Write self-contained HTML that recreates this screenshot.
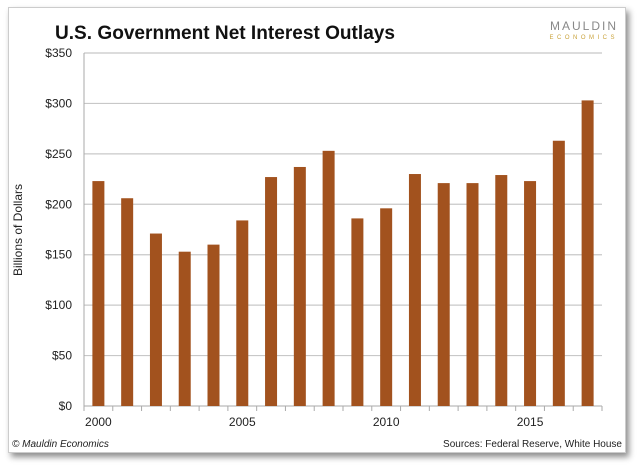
<!DOCTYPE html>
<html><head><meta charset="utf-8"><style>
body{margin:0;background:#fff;width:640px;height:467px;overflow:hidden;font-family:"Liberation Sans",sans-serif}
#card{position:absolute;left:8px;top:7px;width:616px;height:444px;background:#fff;border:1px solid #ccc;box-shadow:3px 4px 6px rgba(0,0,0,0.45)}
</style></head><body>
<div id="card"></div>
<svg id="chart" width="640" height="467" style="position:absolute;left:0;top:0">
<text x="55" y="39" font-size="19" font-weight="bold" fill="#111" textLength="340" lengthAdjust="spacingAndGlyphs">U.S. Government Net Interest Outlays</text>
<text x="618" y="30" text-anchor="end" font-size="12" fill="#888" letter-spacing="2">MAULDIN</text>
<text x="618" y="39" text-anchor="end" font-size="6" fill="#c9a23a" letter-spacing="3.5">ECONOMICS</text>
<text x="12" y="447" font-size="10" font-style="italic" fill="#222">© Mauldin Economics</text>
<text x="622" y="447" text-anchor="end" font-size="10" fill="#222">Sources: Federal Reserve, White House</text>
<text transform="translate(22,230) rotate(-90)" text-anchor="middle" font-size="12" fill="#222">Billions of Dollars</text>
<g id="g"></g>
</svg>
<script>
const years=[2000,2001,2002,2003,2004,2005,2006,2007,2008,2009,2010,2011,2012,2013,2014,2015,2016,2017];
const values=[223,206,171,153,160,184,227,237,253,186,196,230,221,221,229,223,263,303];
const yTicks=[0,50,100,150,200,250,300,350];
const xLabels=[2000,2005,2010,2015];
const L=84,R=602,B=406,T=53,ymax=350;
const ns="http://www.w3.org/2000/svg";
const g=document.getElementById('g');
const bw=(R-L)/years.length;
function y(v){return B-(v/ymax)*(B-T);}
function xc(i){return L+bw*(i+0.5);}
function el(t,a){const e=document.createElementNS(ns,t);for(const k in a)e.setAttribute(k,a[k]);g.appendChild(e);return e;}
yTicks.forEach(v=>{
 if(v>0){const l=el('line',{x1:L,x2:R,y1:y(v),y2:y(v),stroke:'#c8c8c8','stroke-width':1.2});
 
 }
 const t=el('text',{x:L-12,y:y(v)+4,'text-anchor':'end','font-size':12,fill:'#222'});t.textContent='$'+v;
 
 
});
const ax=el('line',{x1:L,x2:L,y1:T,y2:B,stroke:'#aaa'});


const bx=el('line',{x1:L,x2:R,y1:B,y2:B,stroke:'#aaa'});


for(let i=0;i<=years.length;i++){const tk=el('line',{x1:L+bw*i,x2:L+bw*i,y1:B,y2:B+5,stroke:'#aaa'});
 
 }
years.forEach((yr,i)=>{
 const r=el('rect',{x:xc(i)-6,y:y(values[i]),width:12,height:B-y(values[i]),fill:'#a2521e'});
 
 
 if(xLabels.includes(yr)){const t=el('text',{x:xc(i),y:B+20,'text-anchor':'middle','font-size':12,fill:'#222'});t.textContent=yr;
 
 }
});
</script>
</body></html>
